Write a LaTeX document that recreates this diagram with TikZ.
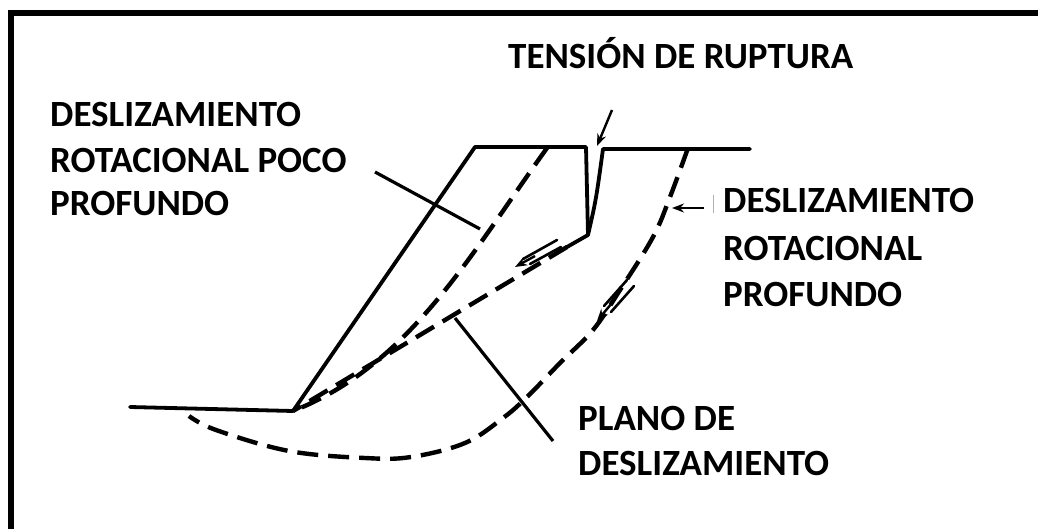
\documentclass[tikz,border=0pt]{standalone}
\usepackage{fontspec}
\setmainfont{Carlito}
\usetikzlibrary{arrows.meta}
\begin{document}
\begin{tikzpicture}[x=1pt,y=-1pt,
  lbl/.style={font=\bfseries\fontsize{37}{44}\selectfont, anchor=base west, inner sep=0pt},
  solidline/.style={line width=3.8pt, line cap=round, line join=round},
  dashline/.style={line width=4.4pt, dash pattern=on 21pt off 10pt},
  leader/.style={line width=3.2pt},
  stroke/.style={line width=2.6pt, line cap=round},
  tip/.style={line width=2.4pt, -{Stealth[length=12pt,width=9pt]}},
  ]
\useasboundingbox (0,0) rectangle (1038,529);
\fill[white] (0,0) rectangle (1038,529);
\draw[line width=6pt] (11,529) -- (11,13) -- (1038,13);

% ground and slope
\coordinate (gl) at (130,407);
\coordinate (toe) at (293,411);
\coordinate (crest) at (475,147);
\coordinate (ckl) at (586,147);
\coordinate (ckb) at (588,235);
\coordinate (ckr) at (603,149);
\coordinate (gr) at (750,149);
\coordinate (pl) at (567,247);
\coordinate (shtop) at (547,148);
\draw[solidline] (gl) -- (toe) -- (crest) -- (ckl) -- (ckb) -- (pl);
\draw[solidline] (ckb) .. controls (596,200) .. (ckr) -- (gr);

% slip surfaces
\draw[dashline] (pl) -- (toe);
\draw[dashline] (shtop) .. controls (470,255) and (410,365) .. (toe);
\draw[dashline] plot[smooth, tension=0.6] coordinates {(688,148) (670,197) (653,237) (620,290) (593,330) (560,363) (527,397) (503,418) (465,443) (411,457) (365,458) (289,451) (216,430) (189,416)};

% movement arrows
\draw[stroke] (557,240) -- (523,259);
\draw[stroke] (561,247) -- (530,264);
\draw[tip] (535,256) -- (515,267);
\draw[stroke] (627,280) -- (604,306);
\draw[stroke] (634,286) -- (611,312);
\draw[tip] (612,303) -- (597,321);
\draw[tip] (612,110) -- (597,146);

% labels
\node[lbl] (t1) at (508,69) {TENSIÓN DE RUPTURA};
\node[lbl] (a1) at (50,127) {DESLIZAMIENTO};
\node[lbl] (a2) at (50,173) {ROTACIONAL POCO};
\node[lbl] (a3) at (50,216) {PROFUNDO};
\node[lbl] (b1) at (723,213) {DESLIZAMIENTO};
\node[lbl] (b2) at (723,261) {ROTACIONAL};
\node[lbl] (b3) at (723,306) {PROFUNDO};
\node[lbl] (c1) at (578,430) {PLANO DE};
\node[lbl] (c2) at (578,475) {DESLIZAMIENTO};

% leaders
\coordinate (la) at (480,229);
\coordinate (lb) at (672,208);
\coordinate (lc) at (455,318);
\coordinate (lce) at (553,441);
\draw[leader] (375,172) -- (la);
\draw[tip] (704,208) -- (lb);
\draw[line width=0.8pt, gray!60] (713,195) -- (713,213);
\draw[leader] (lc) -- (lce);
\end{tikzpicture}
\end{document}
